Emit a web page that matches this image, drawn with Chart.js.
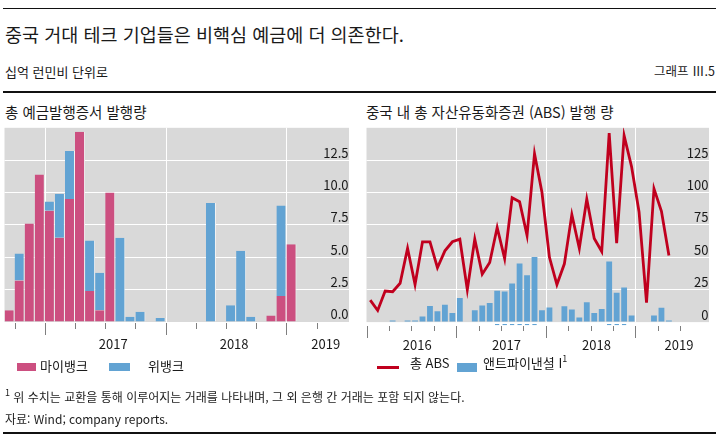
<!DOCTYPE html>
<html lang="ko">
<head>
<meta charset="utf-8">
<script src="https://cdn.jsdelivr.net/npm/chart.js@4.4.1/dist/chart.umd.min.js"></script>
<style>
  body { margin: 0; width: 719px; height: 444px; background: #fff; position: relative; overflow: hidden;
         font-family: "Noto Sans CJK KR", sans-serif; color: #1a1a1a; }
  .t { position: absolute; white-space: nowrap; line-height: 1; }
  .rule { position: absolute; left: 3px; width: 713px; height: 1.5px; background: #111; }
  .sw { position: absolute; }
  sup { font-size: 9px; vertical-align: 0; position: relative; top: -6px; }
  canvas { position: absolute; }
</style>
</head>
<body>
<div class="rule" style="top:7.5px"></div>
<div class="t" style="left:5px;top:25px;font-size:18.5px">중국 거대 테크 기업들은 비핵심 예금에 더 의존한다.</div>
<div class="t" style="left:5px;top:65px;font-size:13px">십억 런민비 단위로</div>
<div class="t" style="right:4px;top:65px;font-size:12.5px">그래프 Ⅲ.5</div>
<div class="rule" style="top:91px"></div>
<div class="t" style="left:5px;top:105px;font-size:14.5px">총 예금발행증서 발행량</div>
<div class="t" style="left:366px;top:105px;font-size:14.5px">중국 내 총 자산유동화증권 (ABS) 발행 량</div>

<canvas id="chartL" width="360" height="235" style="left:0;top:120px"></canvas>
<canvas id="chartR" width="359" height="235" style="left:360px;top:120px"></canvas>

<!-- 범례 -->
<div class="sw" style="left:17px;top:363px;width:19px;height:8px;background:#cc4f80"></div>
<div class="t" style="left:40px;top:358.7px;font-size:13px">마이뱅크</div>
<div class="sw" style="left:109px;top:363px;width:21px;height:8px;background:#62a3d3"></div>
<div class="t" style="left:148px;top:358.7px;font-size:13px">위뱅크</div>
<div class="sw" style="left:377px;top:365.5px;width:22px;height:3px;background:#c0001e"></div>
<div class="t" style="left:410px;top:355.7px;font-size:13px">총 ABS</div>
<div class="sw" style="left:457px;top:363px;width:20px;height:9px;background:#62a3d3"></div>
<div class="t" style="left:483px;top:355.7px;font-size:13px">앤트파이낸셜 I<sup>1</sup></div>

<!-- 주석 -->
<div class="t" style="left:5px;top:391px;font-size:12px"><sup>1</sup> 위 수치는 교환을 통해 이루어지는 거래를 나타내며, 그 외 은행 간 거래는 포함 되지 않는다.</div>
<div class="t" style="left:5px;top:413px;font-size:12px">자료: Wind; company reports.</div>
<div class="rule" style="top:432px"></div>

<script>
// 왼쪽: 월별 범주 (2016-09 ~ 2019-01)
const monthsL = ['2016-09', '2016-10', '2016-11', '2016-12',
  '2017-01', '2017-02', '2017-03', '2017-04', '2017-05', '2017-06', '2017-07', '2017-08', '2017-09', '2017-10', '2017-11', '2017-12',
  '2018-01', '2018-02', '2018-03', '2018-04', '2018-05', '2018-06', '2018-07', '2018-08', '2018-09', '2018-10', '2018-11', '2018-12',
  '2019-01']
const myBank = [0.9, 3.2, 7.6, 11.4, 8.6, 6.5, 9.5, 14.7, 2.4, 0.9, 10.0, null, null, null, null, null,
  null, null, null, null, null, null, null, null, null, null, 0.5, 2.0, 6.0]
const weBank = [null, 2.1, null, null, 0.7, 3.4, 3.7, null, 3.9, 2.9, null, 6.5, 0.4, 0.8, null, 0.3,
  null, null, null, null, 9.2, null, 1.3, 5.5, 0.4, null, null, 7.0, null]

// 오른쪽: 월별 범주 (2016-01 ~ 2019-05)
const monthsR = ['2016-01', '2016-02', '2016-03', '2016-04', '2016-05', '2016-06', '2016-07', '2016-08', '2016-09', '2016-10', '2016-11', '2016-12',
  '2017-01', '2017-02', '2017-03', '2017-04', '2017-05', '2017-06', '2017-07', '2017-08', '2017-09', '2017-10', '2017-11', '2017-12',
  '2018-01', '2018-02', '2018-03', '2018-04', '2018-05', '2018-06', '2018-07', '2018-08', '2018-09', '2018-10', '2018-11', '2018-12',
  '2019-01', '2019-02', '2019-03', '2019-04', '2019-05']
const totalAbs = [17, 9, 24, 23.5, 30, 57, 29, 62, 62, 42, 55, 62, 64, 25, 64, 37, 46, 73, 49, 96, 93, 67, 130, 100,
  50, 29, 45, 83, 57, 95, 64.5, 54.5, 146, 61, 144, 120, 85, 15, 103, 85.5, 51.5]
const antFin = [null, null, null, 1.3, null, 1.3, 1.3, 4.3, 12.5, 8.4, 13.5, 7.1, 18.6, null, 9.2, 12.8, 14.8, 24.2, 23.7, 29.8, 45.2, 36.2, 50.3, 9.2,
  11.2, null, 12.2, 9.7, 3.6, 15.3, 7.1, 10.2, 46.7, 22.7, 26.8, 5.1, null, null, 5.1, 11, 1.3]
const antFinNeg = [null, null, null, null, null, null, null, null, null, null, null, null, null, null, null, null, null, -2.5, -2.5, -2.5, -2.5, -2.5, -2.5, null,
  null, null, null, null, null, null, null, null, -2.5, -2.5, -2.5, null, null, null, null, null, null]

// 축 눈금 (월 단위 위치)
const yTicksL = [0, 2.5, 5, 7.5, 10, 12.5]
const yTicksR = [0, 25, 50, 75, 100, 125]
const yearLabelsL = ['2017', '2018', '2019']
const yearLabelPosL = [10.8, 22.8, 31.9]
const quarterTicksL = [1, 4, 7, 10, 13, 16, 19, 22, 25, 28, 31]
const yearTicksL = [4, 16, 28]
const yearLabelsR = ['2016', '2017', '2018', '2019']
const yearLabelPosR = [6.8, 18.75, 30.8, 41.85]
const quarterTicksR = [0, 3, 6, 9, 12, 15, 18, 21, 24, 27, 30, 33, 36, 39, 42]
const yearTicksR = [0, 12, 24, 36]

const PINK = '#cc4f80'
const BLUE = '#62a3d3'
const RED = '#c0001e'
const GRAY = '#d9d9d9'

Chart.defaults.font.family = '"Noto Sans CJK KR", sans-serif'
Chart.defaults.color = '#1a1a1a'

// 범주 배열 -> {x, y} 점
function toPoints(values) {
  return values.map((v, i) => ({ x: i + 0.5, y: v }))
}

// 회색 배경, 연도 세로선, 아래 눈금
const framePlugin = {
  id: 'frame',
  beforeDraw(chart, args, opts) {
    const { ctx, chartArea: a, scales: { y } } = chart
    ctx.save()
    ctx.fillStyle = GRAY
    ctx.fillRect(a.left, a.top, a.right - a.left + 0.5, y.getPixelForValue(0) - a.top)
    ctx.restore()
  },
  beforeDatasetsDraw(chart, args, opts) {
    const { ctx, chartArea: a, scales: { x, y } } = chart
    ctx.save()
    ctx.strokeStyle = '#fff'
    ctx.lineWidth = 1
    opts.years.forEach(v => {
      if (v === 0) return
      const px = Math.round(x.getPixelForValue(v)) + 0.5
      ctx.beginPath()
      ctx.moveTo(px, a.top)
      ctx.lineTo(px, y.getPixelForValue(0))
      ctx.stroke()
    })
    ctx.restore()
  },
  afterDraw(chart, args, opts) {
    const { ctx, scales: { x, y } } = chart
    const top = Math.round(y.getPixelForValue(0)) + opts.gap
    ctx.save()
    ctx.strokeStyle = '#7f7f7f'
    ctx.lineWidth = 1
    opts.quarters.forEach(v => {
      const px = Math.round(x.getPixelForValue(v)) + 0.5
      const len = opts.years.includes(v) ? 12 : opts.short
      ctx.beginPath()
      ctx.moveTo(px, top)
      ctx.lineTo(px, top + len)
      ctx.stroke()
    })
    ctx.restore()
  }
}

function xAxis(max, pos, labels, height, pad) {
  return {
    type: 'linear',
    min: 0,
    max: max,
    offset: false,
    stacked: true,
    grid: { display: false, drawTicks: false, offset: false },
    border: { display: false },
    afterBuildTicks: s => { s.ticks = pos.map(v => ({ value: v })) },
    afterFit: s => { s.height = height },
    ticks: {
      autoSkip: false,
      maxRotation: 0,
      padding: pad,
      font: { size: 13 },
      callback: (v, i) => labels[i]
    }
  }
}

function yAxis(min, max, ticks, fmt) {
  return {
    position: 'right',
    min: min,
    max: max,
    stacked: true,
    afterBuildTicks: s => { s.ticks = ticks.map(v => ({ value: v })) },
    grid: {
      drawTicks: false,
      lineWidth: 1,
      color: c => (c.tick && c.tick.value > 0 ? '#ffffff' : 'rgba(0,0,0,0)')
    },
    border: { display: false },
    ticks: {
      mirror: true,
      padding: 0,
      labelOffset: -7.5,
      font: { size: 13 },
      callback: fmt
    }
  }
}

// 왼쪽 차트: 총 예금발행증서 발행량
new Chart(document.getElementById('chartL'), {
  type: 'bar',
  data: {
    datasets: [
      { label: '마이뱅크', data: toPoints(myBank), backgroundColor: PINK },
      { label: '위뱅크', data: toPoints(weBank), backgroundColor: BLUE }
    ]
  },
  options: {
    responsive: false,
    animation: false,
    layout: { padding: { left: 4.5, right: 11.5, top: 5, bottom: 0 } },
    datasets: {
      bar: {
        barPercentage: 1,
        categoryPercentage: 1,
        borderColor: '#f2f2f2',
        borderWidth: { top: 0, right: 1, bottom: 0, left: 0 },
        borderSkipped: false,
        inflateAmount: 0
      }
    },
    scales: {
      x: xAxis(34.16, yearLabelPosL, yearLabelsL, 33, 14),
      y: yAxis(0, 15, yTicksL, v => v.toFixed(1))
    },
    plugins: {
      legend: { display: false },
      tooltip: { enabled: false },
      frame: { years: yearTicksL, quarters: quarterTicksL, gap: 1, short: 6 }
    }
  },
  plugins: [framePlugin]
})

// 오른쪽 차트: 중국 내 총 ABS 발행량
new Chart(document.getElementById('chartR'), {
  type: 'bar',
  data: {
    datasets: [
      {
        type: 'line', label: '총 ABS', data: toPoints(totalAbs), order: 0, stack: 'line',
        borderColor: RED, borderWidth: 2.8, pointRadius: 0, tension: 0, borderJoinStyle: 'miter'
      },
      { label: '앤트파이낸셜 I', data: toPoints(antFin), backgroundColor: BLUE, order: 1, barPercentage: 0.78 },
      {
        label: '앤트파이낸셜 I (-)', data: toPoints(antFinNeg), backgroundColor: BLUE, order: 1, barPercentage: 0.62,
        borderColor: '#ffffff', borderWidth: { top: 1.5, right: 0, bottom: 0, left: 0 }, borderSkipped: false
      }
    ]
  },
  options: {
    responsive: false,
    animation: false,
    layout: { padding: { left: 6.5, right: 10.5, top: 5, bottom: 0 } },
    datasets: { bar: { categoryPercentage: 1, inflateAmount: 0 } },
    scales: {
      x: xAxis(45.8, yearLabelPosR, yearLabelsR, 29, 11),
      y: yAxis(-3, 150, yTicksR, v => String(v))
    },
    plugins: {
      legend: { display: false },
      tooltip: { enabled: false },
      frame: { years: yearTicksR, quarters: quarterTicksR, gap: 4, short: 5 }
    }
  },
  plugins: [framePlugin]
})
</script>
</body>
</html>
